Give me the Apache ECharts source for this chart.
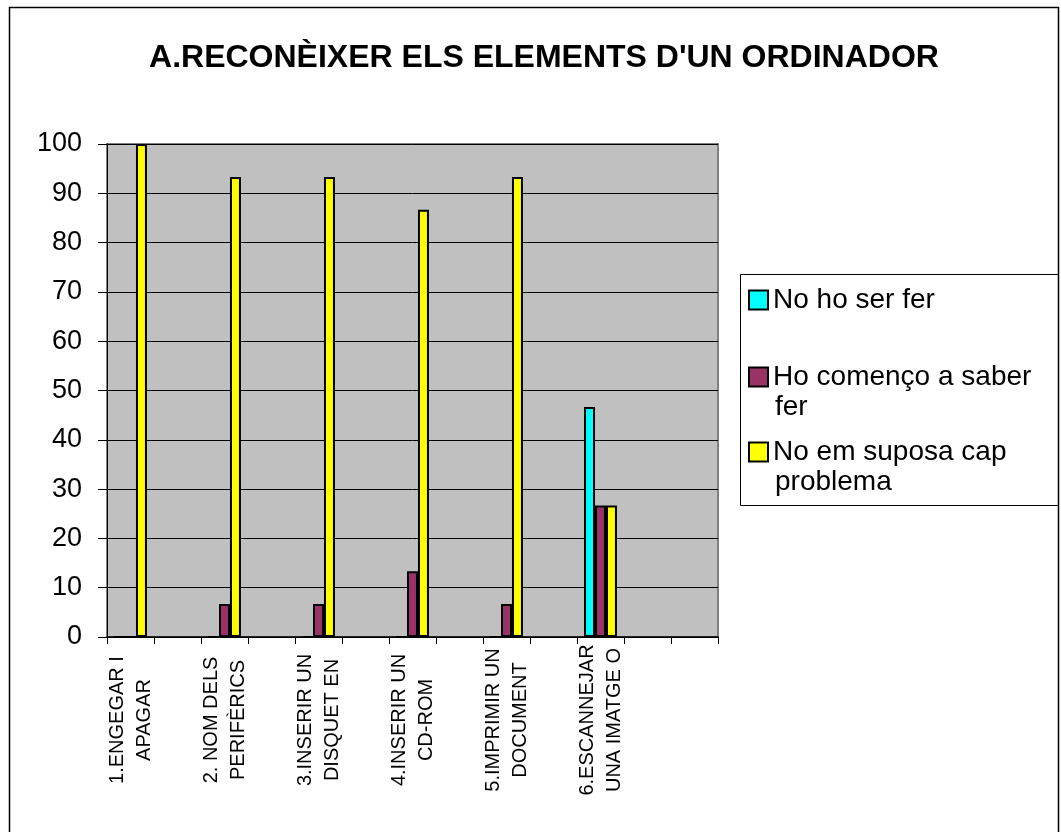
<!DOCTYPE html>
<html>
<head>
<meta charset="utf-8">
<script src="https://cdn.jsdelivr.net/npm/echarts@6/dist/echarts.min.js"></script>
<style>
html,body{margin:0;padding:0;background:#fff;}
#chart{width:1061px;height:832px;}
</style>
</head>
<body>
<div id="chart"></div>
<script>
const titleText = "A.RECONÈIXER ELS ELEMENTS D'UN ORDINADOR";
const categories = [
  '1.ENGEGAR I\nAPAGAR', '',
  '2. NOM DELS\nPERIFÈRICS', '',
  '3.INSERIR UN\nDISQUET EN', '',
  '4.INSERIR UN\nCD-ROM', '',
  '5.IMPRIMIR UN\nDOCUMENT', '',
  '6.ESCANNEJAR\nUNA IMATGE O', '', ''
];
const seriesNames = ['No ho ser fer', 'Ho començo a saber fer', 'No em suposa cap problema'];
const legendLines = [['No ho ser fer', ''], ['Ho començo a saber', 'fer'], ['No em suposa cap', 'problema']];
const noHoSe = [0, null, 0, null, 0, null, 0, null, 0, null, 46.67, null, null];
const comenco = [0, null, 6.67, null, 6.67, null, 13.33, null, 6.67, null, 26.67, null, null];
const capProblema = [100, null, 93.33, null, 93.33, null, 86.67, null, 93.33, null, 26.67, null, null];
const yTicks = [0, 10, 20, 30, 40, 50, 60, 70, 80, 90, 100];
const colors = ['#00FFFF', '#993366', '#FFFF00'];

const FONT = "'Liberation Sans', Arial, sans-serif";
const chart = echarts.init(document.getElementById('chart'), null, {renderer: 'canvas'});

const seriesData = [noHoSe, comenco, capProblema];
const legendTops = [285, 362, 437];

const legends = seriesNames.map((name, i) => ({
  data: [name],
  orient: 'vertical',
  left: 743,
  top: legendTops[i],
  padding: 0,
  itemWidth: 1,
  itemHeight: 1,
  itemStyle: {opacity: 0},
  selectedMode: false,
  formatter: function () {
    const l = legendLines[i];
    return '{box' + i + '|}{t|' + l[0] + '}\n{ind|}{t|' + (l[1] || ' ') + '}';
  },
  textStyle: {
    fontFamily: FONT,
    fontSize: 28,
    color: '#000',
    lineHeight: 30,
    rich: {
      box0: {width: 17, height: 17, backgroundColor: colors[0], borderColor: '#000', borderWidth: 2},
      box1: {width: 17, height: 17, backgroundColor: colors[1], borderColor: '#000', borderWidth: 2},
      box2: {width: 17, height: 17, backgroundColor: colors[2], borderColor: '#000', borderWidth: 2},
      t: {fontFamily: FONT, fontSize: 28, color: '#000', lineHeight: 30, padding: [0, 0, 0, 6]},
      ind: {width: 19, height: 17}
    }
  }
}));

const option = {
  animation: false,
  backgroundColor: '#fff',
  title: {
    text: titleText,
    left: 539,
    top: 37,
    textAlign: 'center',
    textStyle: {fontFamily: FONT, fontSize: 32, fontWeight: 'bold', color: '#000'}
  },
  legend: legends,
  grid: {
    left: 107, top: 144, right: 343, bottom: 195,
    show: true,
    backgroundColor: '#C0C0C0',
    borderColor: '#808080',
    borderWidth: 2
  },
  xAxis: {
    type: 'category',
    data: categories,
    boundaryGap: true,
    axisLine: {lineStyle: {color: '#000', width: 1.5}},
    axisTick: {show: true, length: 7, lineStyle: {color: '#000'}, interval: 0},
    axisLabel: {
      interval: 0,
      rotate: 90,
      align: 'center',
      verticalAlign: 'middle',
      margin: 83,
      fontFamily: FONT,
      fontSize: 20,
      lineHeight: 27,
      color: '#000'
    },
    splitLine: {show: false}
  },
  yAxis: {
    type: 'value',
    min: 0,
    max: 100,
    interval: 10,
    axisLine: {show: true, lineStyle: {color: '#000', width: 1}},
    axisTick: {show: true, length: 9, lineStyle: {color: '#000'}},
    axisLabel: {
      margin: 25,
      fontFamily: FONT,
      fontSize: 27,
      color: '#000',
      formatter: function (v) { return yTicks.indexOf(v) >= 0 ? String(v) : ''; }
    },
    splitLine: {show: true, lineStyle: {color: '#000', width: 1}}
  },
  series: seriesNames.map((name, i) => ({
    name: name,
    type: 'bar',
    data: seriesData[i],
    barGap: '0%',
    barCategoryGap: '30%',
    itemStyle: {color: colors[i], borderColor: '#000', borderWidth: 2}
  })),
  graphic: [
    {type: 'rect', silent: true, z: -10, shape: {x: 9.5, y: 7.5, width: 1049, height: 840},
     style: {fill: null, stroke: '#000', lineWidth: 1.5}},
    {type: 'rect', silent: true, shape: {x: 740.5, y: 274.5, width: 318, height: 231},
     style: {fill: null, stroke: '#000', lineWidth: 1}}
  ]
};
chart.setOption(option);
</script>
</body>
</html>
